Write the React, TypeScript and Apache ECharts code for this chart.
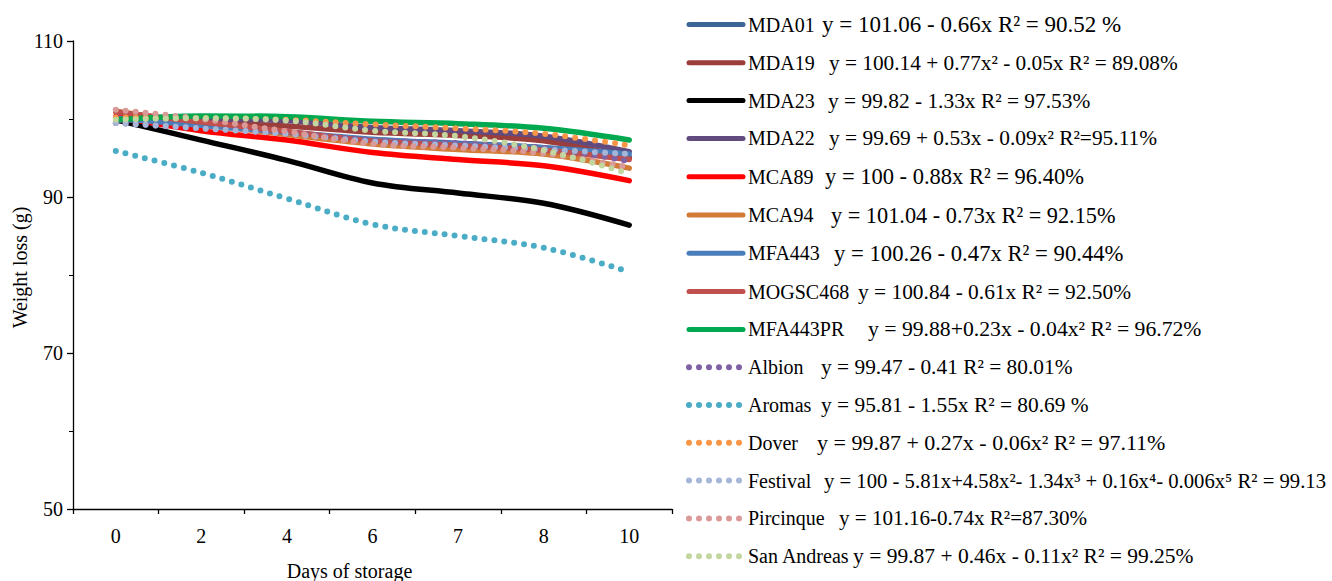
import React, { useEffect, useRef } from "react";
import * as echarts from "echarts";

const days = ["0", "2", "4", "6", "7", "8", "10"];

const seriesNames = [
  "MDA01", "MDA19", "MDA23", "MDA22", "MCA89", "MCA94", "MFA443", "MOGSC468", "MFA443PR",
  "Albion", "Aromas", "Dover", "Festival", "Pircinque", "San Andreas",
];

const equations = [
  "y = 101.06 - 0.66x R² = 90.52 %",
  "y = 100.14 + 0.77x² - 0.05x R² = 89.08%",
  "y = 99.82 - 1.33x R² = 97.53%",
  "y = 99.69 + 0.53x - 0.09x² R²=95.11%",
  "y = 100 - 0.88x R² = 96.40%",
  "y = 101.04 - 0.73x R² = 92.15%",
  "y = 100.26 - 0.47x R² = 90.44%",
  "y = 100.84 - 0.61x R² = 92.50%",
  "y = 99.88+0.23x - 0.04x² R² = 96.72%",
  "y = 99.47 - 0.41 R² = 80.01%",
  "y = 95.81 - 1.55x R² = 80.69 %",
  "y = 99.87 + 0.27x - 0.06x² R² = 97.11%",
  "y = 100 - 5.81x+4.58x²- 1.34x³ + 0.16x⁴- 0.006x⁵ R² = 99.13",
  "y = 101.16-0.74x R²=87.30%",
  "y = 99.87 + 0.46x - 0.11x² R² = 99.25%",
];

const mda01 = [100.3, 99.2, 98.3, 97.3, 96.9, 96.3, 95.1];
const mda19 = [100.2, 99.6, 99.1, 98.3, 97.9, 97.2, 95.0];
const mda23 = [99.9, 97.3, 94.7, 91.8, 90.5, 89.2, 86.4];
const mda22 = [99.8, 100.0, 99.8, 98.9, 98.5, 97.8, 95.8];
const mca89 = [100.3, 98.5, 97.3, 95.7, 94.8, 94.0, 92.1];
const mca94 = [101.0, 99.4, 98.0, 96.8, 96.1, 95.5, 93.7];
const mfa443 = [100.1, 99.2, 98.3, 97.4, 96.8, 96.3, 95.5];
const mogsc468 = [100.9, 99.6, 98.4, 97.2, 96.6, 96.0, 94.8];
const mfa443pr = [99.9, 100.4, 100.3, 99.7, 99.4, 98.8, 97.3];
const albion = [99.5, 98.8, 98.2, 97.3, 96.9, 96.3, 94.6];
const aromas = [95.9, 93.1, 89.8, 86.5, 85.0, 83.5, 80.4];
const dover = [100.2, 100.1, 99.9, 99.3, 98.8, 98.1, 96.6];
const festival = [99.5, 98.8, 98.1, 97.1, 96.6, 96.1, 95.5];
const pircinque = [101.2, 100.0, 98.4, 96.8, 96.3, 95.6, 93.8];
const sanAndreas = [99.9, 100.1, 99.8, 98.5, 97.8, 96.0, 93.0];

const seriesValues = [
  mda01, mda19, mda23, mda22, mca89, mca94, mfa443, mogsc468, mfa443pr,
  albion, aromas, dover, festival, pircinque, sanAndreas,
];

const colors = [
  "#3C6497", "#9B3D3B", "#000000", "#604A7E", "#FF0000", "#D27B36", "#4A7EBB", "#C0504D", "#00A94F",
  "#7E62A3", "#4BACC6", "#F79646", "#A6B6D9", "#DA9A98", "#C4D6A0",
];

const dotted = [
  false, false, false, false, false, false, false, false, false,
  true, true, true, true, true, true,
];

// legend layout: width reserved for each name, and the size of each equation's text
const nameBoxWidths = [74, 81, 80, 81, 77, 83, 86, 110, 120, 73, 73, 69, 76, 91, 105];
const equationFontSizes = [23, 21.3, 21.4, 21.4, 22.5, 22.3, 22.7, 21.4, 21.7, 21.4, 21.4, 22, 20.7, 21.1, 21.5];

const FONT = "'Liberation Serif', 'Times New Roman', serif";
const LINE_H = 22;

export default function App() {
  const ref = useRef<HTMLDivElement>(null);

  useEffect(() => {
    if (!ref.current) return;
    const chart = echarts.init(ref.current, null, { renderer: "svg" });

    const rich: Record<string, any> = {};
    nameBoxWidths.forEach((w, i) => {
      rich["n" + i] = { fontFamily: FONT, fontSize: 20, color: "#000", width: w, lineHeight: LINE_H };
      rich["e" + i] = { fontFamily: FONT, fontSize: equationFontSizes[i], color: "#000", lineHeight: LINE_H };
    });

    const series = seriesNames.map((name, i) => ({
      name,
      type: "line",
      data: seriesValues[i],
      smooth: 0.35,
      symbol: "none",
      lineStyle: dotted[i]
        ? { color: colors[i], width: 6, type: [0, 10], cap: "round" }
        : { color: colors[i], width: 5.5, cap: "round" },
      itemStyle: { color: colors[i] },
      z: 2,
    }));

    chart.setOption({
      animation: false,
      backgroundColor: "#fff",
      textStyle: { fontFamily: FONT },
      grid: { left: 73, right: 660, top: 41, bottom: 72, containLabel: false, outerBoundsMode: "none" },
      legend: {
        orient: "vertical",
        left: 681,
        top: 8,
        itemWidth: 54,
        itemHeight: 14,
        itemGap: 15.8,
        selectedMode: false,
        data: seriesNames.map((n, i) => ({
          name: n,
          itemStyle: { color: "rgba(0,0,0,0)", borderWidth: 0, opacity: 0 },
          lineStyle: dotted[i]
            ? { width: 6, type: [0, 10], cap: "round", color: colors[i], opacity: 1 }
            : { width: 5, cap: "round", color: colors[i], opacity: 1 },
        })),
        formatter: (name: string) => {
          const i = seriesNames.indexOf(name);
          return `{n${i}|${name}}{e${i}|${equations[i]}}`;
        },
        textStyle: { fontFamily: FONT, fontSize: 20, color: "#000", lineHeight: LINE_H, rich },
      },
      xAxis: {
        type: "category",
        data: days,
        boundaryGap: true,
        name: "Days of storage",
        nameLocation: "middle",
        nameGap: 52,
        nameTextStyle: { fontFamily: FONT, fontSize: 20, color: "#000", padding: [0, 46, 0, 0] },
        axisLine: { lineStyle: { color: "#000", width: 1.3 } },
        axisTick: { show: true, inside: false, length: 5, interval: 0, lineStyle: { color: "#000", width: 1.3 } },
        axisLabel: { fontFamily: FONT, fontSize: 20, color: "#000", margin: 17, interval: 0 },
        splitLine: { show: false },
      },
      yAxis: {
        type: "value",
        min: 50,
        max: 110,
        interval: 20,
        name: "Weight loss (g)",
        nameLocation: "middle",
        nameGap: 43,
        nameRotate: 90,
        nameTextStyle: { fontFamily: FONT, fontSize: 20, color: "#000", padding: [0, 0, 0, 15] },
        axisLine: { show: true, lineStyle: { color: "#000", width: 1.3 } },
        axisTick: { show: true, inside: false, length: 6, lineStyle: { color: "#000", width: 1.3 } },
        minorTick: { show: true, splitNumber: 2, length: 4, lineStyle: { color: "#000", width: 1 } },
        axisLabel: { fontFamily: FONT, fontSize: 20, color: "#000", margin: 10 },
        splitLine: { show: false },
      },
      series,
    });

    return () => chart.dispose();
  }, []);

  return (
    <div
      ref={ref}
      style={{ position: "fixed", left: 0, top: 0, width: 1332, height: 581 }}
    />
  );
}
